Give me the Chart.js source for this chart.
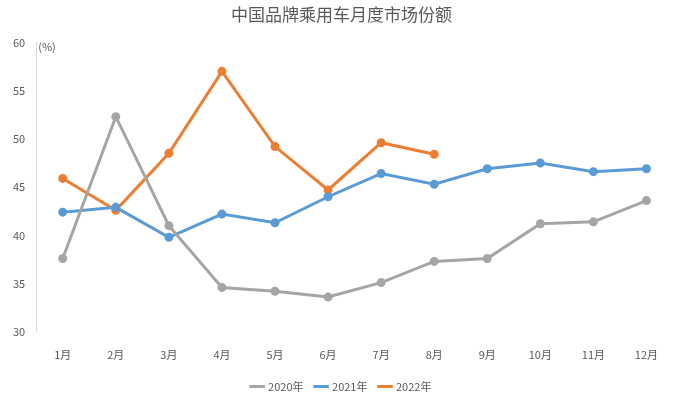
<!DOCTYPE html>
<html><head><meta charset="utf-8">
<script src="https://cdn.jsdelivr.net/npm/chart.js@4"></script>
<style>body{margin:0;background:#fff}#wrap{width:687px;height:404px;position:relative}</style>
</head><body><div id="wrap"><canvas id="c"></canvas></div>
<script>
const months = ['1月','2月','3月','4月','5月','6月','7月','8月','9月','10月','11月','12月'];
const s2020 = [37.6,52.3,41.0,34.6,34.2,33.6,35.1,37.3,37.6,41.2,41.4,43.6];
const s2021 = [42.4,42.9,39.8,42.2,41.3,44.0,46.4,45.3,46.9,47.5,46.6,46.9];
const s2022 = [45.9,42.6,48.5,57.0,49.2,44.7,49.6,48.4];

const unitLabel = {
  id: 'unitLabel',
  afterDraw(chart) {
    const c = chart.ctx, y = chart.scales.y;
    c.save();
    c.font = '11px "Noto Sans CJK SC"';
    c.fillStyle = '#595959';
    c.fillText('(%)', y.right + 2, y.top + 4);
    c.restore();
  }
};

function ds(label, data, color) {
  return {label, data, borderColor: color, backgroundColor: color, borderWidth: 3,
    pointRadius: 3, pointHoverRadius: 4, tension: 0};
}

new Chart(document.getElementById('c'), {
  type: 'line',
  data: {labels: months, datasets: [
    ds('2020年', s2020, '#a5a5a5'),
    ds('2021年', s2021, '#5b9bd5'),
    ds('2022年', s2022, '#ed7d31')
  ]},
  options: {
    responsive: true, maintainAspectRatio: false, animation: false,
    layout: {padding: {left: 10, right: 14, top: 0, bottom: 2}},
    plugins: {
      title: {display: true, text: '中国品牌乘用车月度市场份额', color: '#595959',
        font: {family: 'Noto Sans CJK SC', size: 17, weight: 'normal'}, padding: {top: 4, bottom: 18}},
      legend: {position: 'bottom', labels: {color: '#595959', usePointStyle: true, pointStyle: 'line',
        boxWidth: 30, font: {family: 'Noto Sans CJK SC', size: 11}, padding: 12}}
    },
    scales: {
      x: {offset: true, grid: {display: false}, border: {display: false},
        ticks: {color: '#595959', padding: 8, font: {family: 'Noto Sans CJK SC', size: 11}}},
      y: {min: 30, max: 60, grid: {display: false}, border: {color: '#d9d9d9'},
        ticks: {stepSize: 5, color: '#595959', font: {family: 'Noto Sans CJK SC', size: 11}}}
    }
  },
  plugins: [unitLabel]
});
</script></body></html>
